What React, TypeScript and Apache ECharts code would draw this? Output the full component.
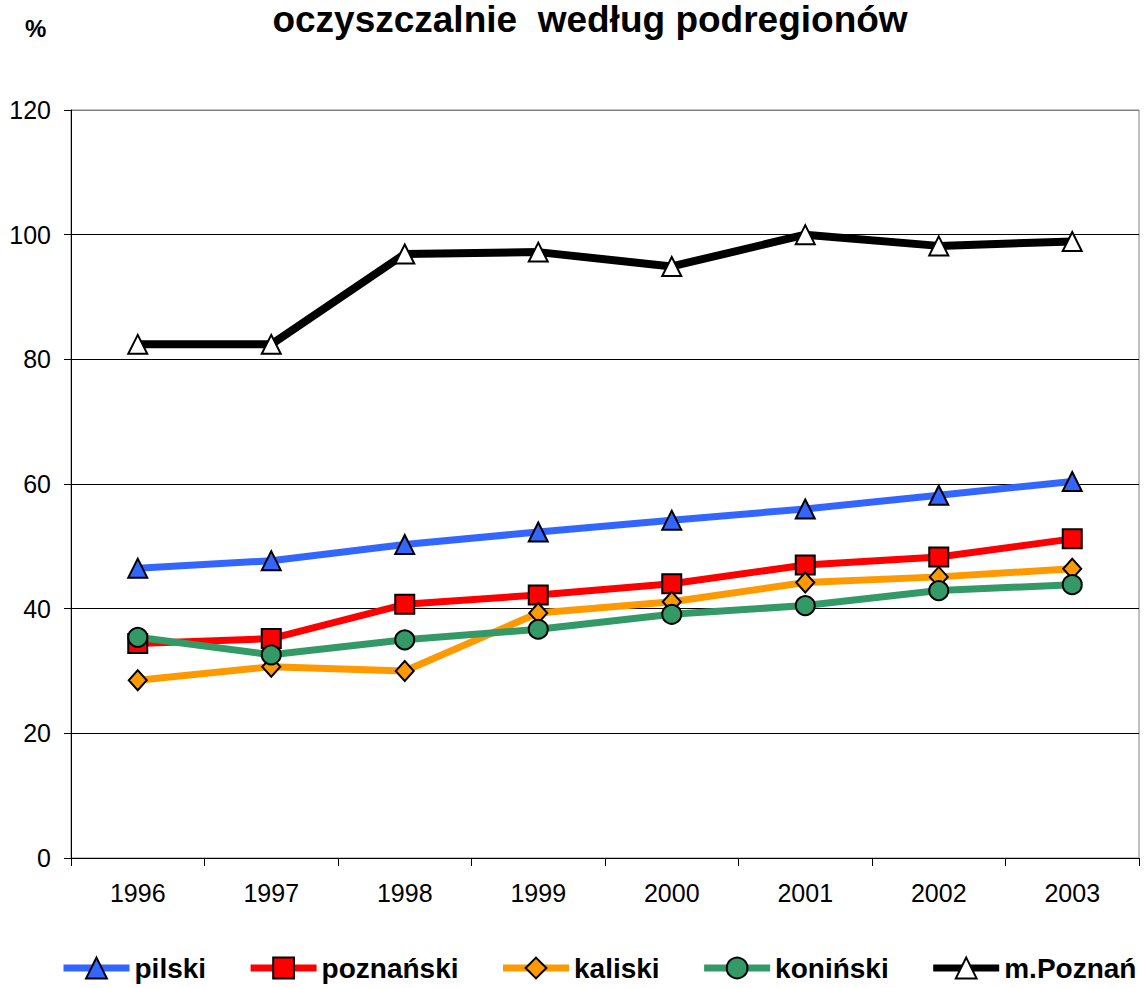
import React, { useEffect, useRef } from "react";
import * as echarts from "echarts";

const years = ["1996", "1997", "1998", "1999", "2000", "2001", "2002", "2003"];
const pilski = [46.5, 47.7, 50.3, 52.3, 54.2, 56.0, 58.2, 60.4];
const poznanski = [34.4, 35.2, 40.7, 42.2, 44.0, 47.0, 48.3, 51.2];
const kaliski = [28.5, 30.7, 30.0, 39.3, 41.1, 44.2, 45.1, 46.4];
const koninski = [35.4, 32.6, 35.0, 36.7, 39.1, 40.5, 42.9, 43.85];
const mPoznan = [82.4, 82.4, 96.9, 97.2, 94.9, 100.0, 98.2, 98.9];

const titleText = "oczyszczalnie  według podregionów";
const unitText = "%";

const FONT = "'Liberation Sans', Arial, sans-serif";

function mkSeries(name: string, data: number[], color: string, fill: string, symbol: string, width: number) {
  return {
    name,
    type: "line",
    data,
    symbol,
    symbolSize: symbol === "diamond" ? [18, 20] : 19,
    showAllSymbol: true,
    lineStyle: { color, width },
    itemStyle: { color: fill, borderColor: "#000", borderWidth: 2 },
    emphasis: { disabled: true },
  };
}

export default function App() {
  const ref = useRef<HTMLDivElement>(null);
  useEffect(() => {
    document.body.style.margin = "0";
    const chart = echarts.init(ref.current!, null, { renderer: "svg" });
    chart.setOption({
      animation: false,
      textStyle: { fontFamily: FONT },
      graphic: [
        {
          type: "text",
          x: 590,
          y: 1,
          style: {
            text: titleText,
            font: `bold 37px ${FONT}`,
            fill: "#000",
            textAlign: "center",
            textVerticalAlign: "top",
          },
        },
        {
          type: "text",
          x: 25,
          y: 16,
          style: { text: unitText, font: `bold 24px ${FONT}`, fill: "#000" },
        },
      ],
      grid: {
        left: 71,
        right: 5,
        top: 110,
        bottom: 130,
        show: true,
        borderColor: "#808080",
        borderWidth: 1,
        backgroundColor: "transparent",
      },
      legend: {
        left: 60,
        top: 954,
        width: 1200,
        padding: 0,
        itemWidth: 66,
        itemHeight: 26,
        itemGap: 41,
        lineStyle: { width: 7 },
        textStyle: { fontFamily: FONT, fontSize: 28, fontWeight: "bold", color: "#000" },
        data: ["pilski", "poznański", "kaliski", "koniński", "m.Poznań"],
      },
      xAxis: {
        type: "category",
        data: years,
        boundaryGap: true,
        axisLine: { lineStyle: { color: "#000", width: 1 } },
        axisTick: { show: true, length: 8, interval: 0, lineStyle: { color: "#000" } },
        axisLabel: { color: "#000", fontSize: 25, fontFamily: FONT, margin: 22, interval: 0 },
        splitLine: { show: false },
      },
      yAxis: {
        type: "value",
        min: 0,
        max: 120,
        interval: 20,
        axisLine: { show: true, lineStyle: { color: "#000", width: 1 } },
        axisTick: { show: true, length: 7, lineStyle: { color: "#000" } },
        axisLabel: { color: "#000", fontSize: 25, fontFamily: FONT, margin: 20 },
        splitLine: {
          show: true,
          lineStyle: { color: ["#000", "#000", "#000", "#000", "#000", "#000", "#808080"], width: 1 },
        },
      },
      series: [
        mkSeries("pilski", pilski, "#3366FF", "#3366FF", "triangle", 7),
        mkSeries("poznański", poznanski, "#FF0000", "#FF0000", "rect", 7),
        mkSeries("kaliski", kaliski, "#FF9900", "#FF9900", "diamond", 7),
        mkSeries("koniński", koninski, "#339966", "#339966", "circle", 7),
        mkSeries("m.Poznań", mPoznan, "#000000", "#FFFFFF", "triangle", 8),
      ],
    });
    return () => chart.dispose();
  }, []);
  return <div ref={ref} style={{ width: 1144, height: 988 }} />;
}
